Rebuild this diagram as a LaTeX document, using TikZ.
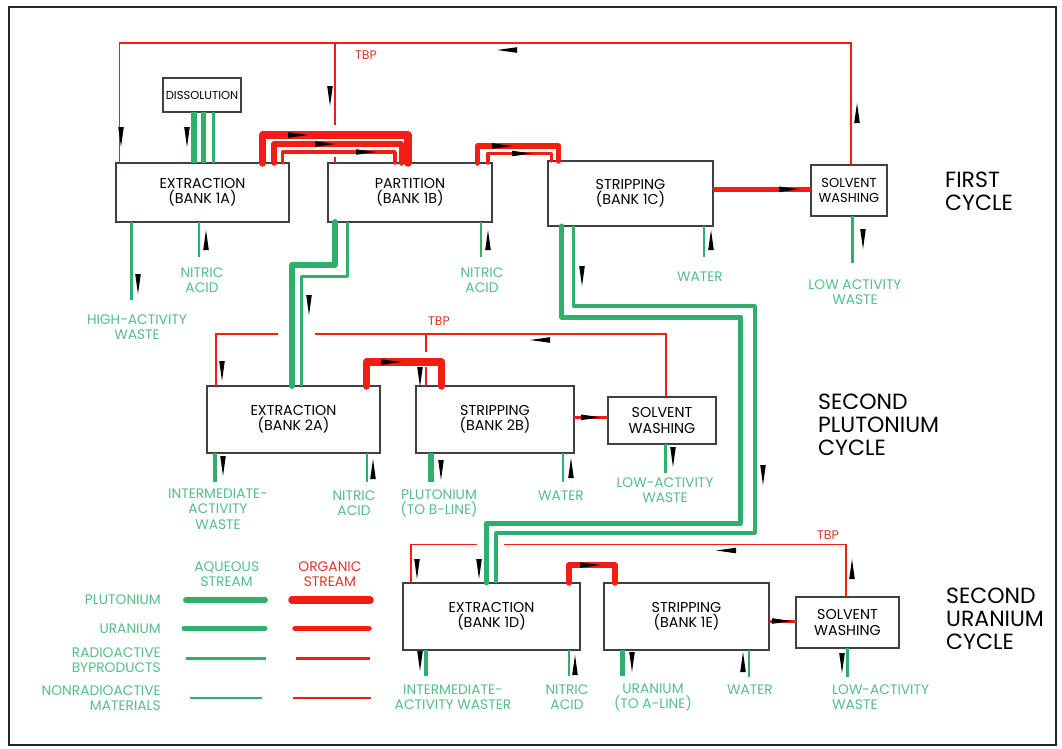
\documentclass[tikz,border=0pt]{standalone}
\usepackage{fontspec}
\setmainfont{Poppins}
\definecolor{aq}{RGB}{46,176,108}
\definecolor{aqtext}{RGB}{84,190,134}
\definecolor{org}{RGB}{242,30,20}
\definecolor{orgtext}{RGB}{226,52,36}
\newcommand\boxfont{\fontsize{14.3}{15.5}\selectfont}
\newcommand\labfont{\fontsize{13.8}{15.3}\selectfont}
\newcommand\titlefont{\fontsize{22}{23}\selectfont}
\tikzset{
  unit/.style={draw=black!75, line width=1.1pt, fill=white, inner sep=0pt,
    outer sep=0pt, align=center, font=\boxfont},
  lab/.style={text=aqtext, font=\labfont, align=center, inner sep=0pt},
  title/.style={text=black, font=\titlefont, align=left, inner sep=0pt, anchor=west},
  tbplab/.style={text=orgtext, font=\fontsize{12.5}{14}\selectfont, inner sep=0pt},
  aqpu/.style={draw=aq, line width=6pt, line cap=round, line join=round},
  aqu/.style={draw=aq, line width=5pt, line cap=round, line join=round},
  aqrad/.style={draw=aq, line width=3.2pt, line join=round},
  aqnon/.style={draw=aq, line width=1.8pt},
  orgpu/.style={draw=org, line width=7.5pt, line cap=round, line join=round},
  orgu/.style={draw=org, line width=5.5pt, line cap=round, line join=round},
  orgrad/.style={draw=org, line width=3.5pt, line cap=round, line join=round},
  tbp/.style={draw=org, line width=1.6pt},
  flowtip/.pic={\fill[black] (-10,-2.8) -- (-10,2.8) -- (10,0) -- cycle;},
  tipdown/.style={rotate=-90},
  tipup/.style={rotate=90},
  tipleft/.style={rotate=180}
}
\begin{document}
\begin{tikzpicture}[x=1pt, y=-1pt]
\useasboundingbox (0,0) rectangle (1062,748);
\draw[black!85, line width=1.3pt] (9,7) rectangle (1056,745);

% ---------------- first cycle ----------------
\node[unit, minimum width=78pt, minimum height=34pt, font=\fontsize{11.5}{13}\selectfont] (dis) at (202,95) {DISSOLUTION};
\node[unit, minimum width=173pt, minimum height=59pt] (ex1a) at (202.5,192.5) {EXTRACTION\\(BANK 1A)};
\node[unit, minimum width=164pt, minimum height=59pt] (pa1b) at (410,192.5) {PARTITION\\(BANK 1B)};
\node[unit, minimum width=165pt, minimum height=65pt] (st1c) at (630.5,193.5) {STRIPPING\\(BANK 1C)};
\node[unit, minimum width=76pt, minimum height=51pt, font=\fontsize{13}{14.5}\selectfont] (sw1) at (849,190.5) {SOLVENT\\WASHING};
\node[title] (t1) at (945,191.5) {FIRST\\CYCLE};

\node[lab] (haw) at (137,327) {HIGH-ACTIVITY\\WASTE};
\node[lab] (na1) at (202,280) {NITRIC\\ACID};
\node[lab] (na2) at (482,280) {NITRIC\\ACID};
\node[lab] (wat1) at (700,277) {WATER};
\node[lab] (law1) at (855,292) {LOW ACTIVITY\\WASTE};
\node[tbplab] (tbp1) at (366,55) {TBP};

% solvent return loop
\coordinate (top1) at (851,43);
\draw[tbp] (sw1.north -| top1) -- (top1) -| (ex1a.north -| 119.3,0);
\draw[tbp] (335,43) -- (335,125);
\draw[tbp] (335,157) -- (pa1b.north -| 335,0);

% organic transfers
\draw[orgpu] (ex1a.north -| 262.7,0) -- ++(0,-28) -| (pa1b.north -| 408,0);
\draw[orgu] (ex1a.north -| 274,0) -- ++(0,-19) -| (pa1b.north -| 401.5,0);
\draw[orgrad] (ex1a.north -| 282.5,0) -- ++(0,-11) -| (pa1b.north -| 395,0);
\draw[orgu] (pa1b.north -| 477.7,0) -- ++(0,-17) -| (st1c.north -| 558.5,0);
\draw[orgrad] (pa1b.north -| 488,0) -- ++(0,-9.5) -| (st1c.north -| 551.5,0);
\draw[draw=org, line width=4.5pt] (st1c.east |- 0,189.3) -- (sw1.west |- 0,189.3);

% aqueous feeds
\draw[aqpu, line cap=butt] (dis.south -| 194.3,0) -- (ex1a.north -| 194.3,0);
\draw[aqu, line cap=butt] (dis.south -| 203.3,0) -- (ex1a.north -| 203.3,0);
\draw[aqrad] (dis.south -| 213.3,0) -- (ex1a.north -| 213.3,0);
\draw[aqrad] (ex1a.south -| 131.7,0) -- ++(0,78);
\draw[aqnon] (ex1a.south -| 199.3,0) -- ++(0,35);
\draw[aqnon] (pa1b.south -| 480.7,0) -- ++(0,35);
\draw[aqnon] (st1c.south -| 704,0) -- ++(0,31);
\draw[aqrad] (sw1.south -| 852.7,0) -- ++(0,47);

% flow marks
\pic[tipdown] at (121,137) {flowtip};
\pic[tipdown] at (330,96) {flowtip};
\pic[tipleft] at (507,50) {flowtip};
\pic[tipup] at (857,113) {flowtip};
\pic[tipdown] at (187,137) {flowtip};
\pic at (298,135) {flowtip};
\pic at (325,144) {flowtip};
\pic at (366,152) {flowtip};
\pic at (502,146) {flowtip};
\pic at (522,153.5) {flowtip};
\pic at (789,189.3) {flowtip};
\pic[tipdown] at (138,284) {flowtip};
\pic[tipup] at (206,240) {flowtip};
\pic[tipup] at (488,240) {flowtip};
\pic[tipup] at (711,240) {flowtip};
\pic[tipdown] at (863,239) {flowtip};

% ---------------- second plutonium cycle ----------------
\node[unit, minimum width=173pt, minimum height=67pt] (ex2a) at (293.5,419.5) {EXTRACTION\\(BANK 2A)};
\node[unit, minimum width=158pt, minimum height=67pt] (st2b) at (495,419.5) {STRIPPING\\(BANK 2B)};
\node[unit, minimum width=108pt, minimum height=47pt] (sw2) at (662,420.5) {SOLVENT\\WASHING};
\node[title] (t2) at (818,424.5) {SECOND\\PLUTONIUM\\CYCLE};

\node[lab] (iaw2) at (218,509) {INTERMEDIATE-\\ACTIVITY\\WASTE};
\node[lab] (na3) at (354,503.5) {NITRIC\\ACID};
\node[lab] (pu2) at (439,503.5) {PLUTONIUM\\(TO B-LINE)};
\node[lab] (wat2) at (561,496) {WATER};
\node[lab] (law2) at (665,490.5) {LOW-ACTIVITY\\WASTE};
\node[tbplab] (tbp2) at (439,321) {TBP};

% plutonium from partition
\draw[aqpu] (pa1b.south -| 335,0) |- (291.7,265) -- (ex2a.north -| 291.7,0);
\draw[aqrad] (pa1b.south -| 347.3,0) |- (301.7,276.7) -- (ex2a.north -| 301.7,0);

% solvent return loop
\coordinate (top2) at (665.7,334);
\draw[tbp] (sw2.north -| top2) -- (top2) -- (315,334);
\draw[tbp] (278,334) -| (ex2a.north -| 216,0);
\draw[tbp] (426,334) -- (426,352);
\draw[tbp] (426,367) -- (st2b.north -| 426,0);

\draw[orgpu] (ex2a.north -| 366.7,0) -- ++(0,-24) -| (st2b.north -| 441.7,0);
\draw[draw=org, line width=3pt] (st2b.east |- 0,417.3) -- (sw2.west |- 0,417.3);

\draw[aqrad] (ex2a.south -| 215,0) -- ++(0,29);
\draw[aqnon] (ex2a.south -| 367.3,0) -- ++(0,29);
\draw[aqpu, line cap=butt] (st2b.south -| 430.7,0) -- ++(0,29);
\draw[aqnon] (st2b.south -| 563.3,0) -- ++(0,29);
\draw[aqrad] (sw2.south -| 665.7,0) -- ++(0,29);

\pic[tipdown] at (222,371) {flowtip};
\pic[tipleft] at (540,340) {flowtip};
\pic[tipdown] at (420,377) {flowtip};
\pic at (391,362) {flowtip};
\pic at (591,417.3) {flowtip};
\pic[tipdown] at (309,305) {flowtip};
\pic[tipdown] at (223,466) {flowtip};
\pic[tipup] at (373,469) {flowtip};
\pic[tipdown] at (441,470) {flowtip};
\pic[tipup] at (571,468) {flowtip};
\pic[tipdown] at (673,457) {flowtip};

% ---------------- second uranium cycle ----------------
\node[unit, minimum width=177pt, minimum height=67pt] (ex1d) at (491.5,616.5) {EXTRACTION\\(BANK 1D)};
\node[unit, minimum width=165pt, minimum height=67pt] (st1e) at (686.5,616.5) {STRIPPING\\(BANK 1E)};
\node[unit, minimum width=103pt, minimum height=51pt] (sw3) at (847.5,622.5) {SOLVENT\\WASHING};
\node[title] (t3) at (946,619) {SECOND\\URANIUM\\CYCLE};

\node[lab] (iaw3) at (453,697.5) {INTERMEDIATE-\\ACTIVITY WASTER};
\node[lab] (na4) at (567,697.5) {NITRIC\\ACID};
\node[lab] (ur) at (653,697.5) {URANIUM\\(TO A-LINE)};
\node[lab] (wat3) at (750,690) {WATER};
\node[lab, align=left, anchor=west] (law3) at (832,697.5) {LOW-ACTIVITY\\WASTE};
\node[tbplab] (tbp3) at (828,535) {TBP};

% uranium from stripping 1C
\draw[aqu] (st1c.south -| 561.7,0) |- (740.7,317) |- (486.7,523) -- (ex1d.north -| 486.7,0);
\draw[aqrad] (st1c.south -| 573.3,0) |- (755,306) |- (496,533) -- (ex1d.north -| 496,0);

% solvent return loop
\coordinate (top3) at (846,544.5);
\draw[tbp] (sw3.north -| top3) -- (top3) -- (504,544.5);
\draw[tbp] (476.7,544.5) -| (ex1d.north -| 410.7,0);

\draw[orgu] (ex1d.north -| 569,0) -- ++(0,-18) -| (st1e.north -| 615,0);
\draw[draw=org, line width=3pt] (st1e.east |- 0,621) -- (sw3.west |- 0,621);

\draw[aqrad] (ex1d.south -| 426,0) -- ++(0,26);
\draw[aqnon] (ex1d.south -| 569.3,0) -- ++(0,26);
\draw[aqu, line cap=butt] (st1e.south -| 622.7,0) -- ++(0,26);
\draw[aqnon] (st1e.south -| 749.3,0) -- ++(0,27);
\draw[aqrad] (sw3.south -| 847.7,0) -- ++(0,29);

\pic[tipdown] at (582,276) {flowtip};
\pic[tipdown] at (763,475) {flowtip};
\pic[tipdown] at (417,569) {flowtip};
\pic[tipdown] at (479,569) {flowtip};
\pic[tipleft] at (726,550.5) {flowtip};
\pic[tipup] at (852,569) {flowtip};
\pic at (590,565) {flowtip};
\pic at (782,621) {flowtip};
\pic[tipdown] at (420,661) {flowtip};
\pic[tipup] at (575,665) {flowtip};
\pic[tipdown] at (632,662) {flowtip};
\pic[tipup] at (743,662) {flowtip};
\pic[tipdown] at (842,663) {flowtip};

% ---------------- legend ----------------
\node[lab] (aqh) at (226.7,574) {AQUEOUS\\STREAM};
\node[lab, text=orgtext] (orgh) at (330,574) {ORGANIC\\STREAM};
\node[lab, anchor=east, align=right] (lpu) at (161,600) {PLUTONIUM};
\node[lab, anchor=east, align=right] (lu) at (161,628.5) {URANIUM};
\node[lab, anchor=east, align=right] (lrad) at (161,660) {RADIOACTIVE\\BYPRODUCTS};
\node[lab, anchor=east, align=right] (lnon) at (161,698.5) {NONRADIOACTIVE\\MATERIALS};
\draw[aqpu] (186,600) -- (265,600);
\draw[orgpu] (292,600) -- (370,600);
\draw[aqu] (184,628.5) -- (265,628.5);
\draw[orgu] (295,628.5) -- (369,628.5);
\draw[aqrad] (186,658.3) -- (266,658.3);
\draw[draw=org, line width=3pt] (296,658.3) -- (370,658.3);
\draw[aqnon] (190,697.7) -- (262,697.7);
\draw[draw=org, line width=1.8pt] (293,697.7) -- (371,697.7);
\end{tikzpicture}
\end{document}
